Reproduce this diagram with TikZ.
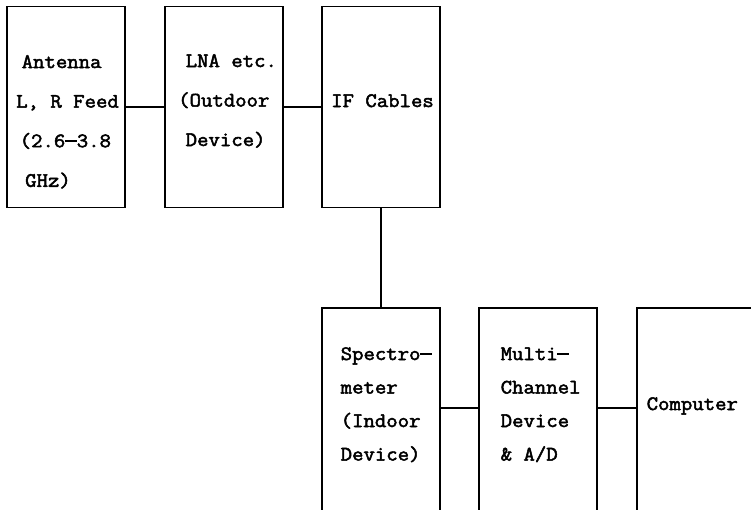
\documentclass[tikz,border=0pt]{standalone}
\usepackage{fontspec}
\newfontfamily\boxfont{Latin Modern Mono}[FakeBold=2.4,FakeStretch=1.08]
\newcommand{\Lline}[2]{\hbox{\hspace*{#1pt}#2}}
\newcommand{\dsh}{\hbox to 11.5pt{\hss\rule[5pt]{12pt}{1.9pt}\hss}}
\begin{document}
\begin{tikzpicture}[x=1pt,y=-1pt,
  blk/.style={draw=black,line width=1.8pt,minimum width=118pt,inner sep=0pt},
  topblk/.style={blk,minimum height=201pt},
  lowblk/.style={blk,minimum height=206pt},
  lbl/.style={anchor=base west,inner sep=0pt,font=\boxfont\fontsize{20.5}{20.5}\selectfont},
  wire/.style={line width=1.8pt}]
\clip (0,0) rectangle (751,509);
\fill[white] (0,0) rectangle (751,509);
% boxes
\node[topblk] (b1) at (66,107) {};
\node[topblk] (b2) at (224,107) {};
\node[topblk] (b3) at (381,107) {};
\node[lowblk] (b4) at (381,411) {};
\node[lowblk] (b5) at (538,411) {};
\node[lowblk,minimum width=130pt] (b6) at (702,411) {};
% texts
\node[lbl] (t1) at (16,68) {\vtop{\baselineskip=39.6pt
  \Lline{5.5}{Antenna}\Lline{0}{L, R Feed}\Lline{3.5}{(2.6\dsh3.8}\Lline{9}{GHz)}}};
\node[lbl] (t2) at (177,67) {\vtop{\baselineskip=39.5pt
  \Lline{8.5}{LNA etc.}\Lline{1}{(Outdoor}\Lline{8.5}{Device)}}};
\node[lbl] (t3) at (331,107) {IF Cables};
\node[lbl] (t4) at (340.5,360) {\vtop{\baselineskip=33.5pt
  \Lline{0}{Spectro\dsh}\Lline{0}{meter}\Lline{0}{(Indoor}\Lline{0}{Device)}}};
\node[lbl] (t5) at (500.5,360) {\vtop{\baselineskip=33.5pt
  \Lline{0}{Multi\dsh}\Lline{0}{Channel}\Lline{0}{Device}\Lline{0}{\& A/D}}};
\node[lbl] (t6) at (646.5,410) {Computer};
% connectors
\draw[wire] (b1.east) -- (b2.west);
\draw[wire] (b2.east) -- (b3.west);
\draw[wire] (b3.south) -- (b4.north);
\draw[wire] ([yshift=3pt]b4.east) -- ([yshift=3pt]b5.west);
\draw[wire] ([yshift=3pt]b5.east) -- ([yshift=3pt]b6.west);
\end{tikzpicture}
\end{document}
